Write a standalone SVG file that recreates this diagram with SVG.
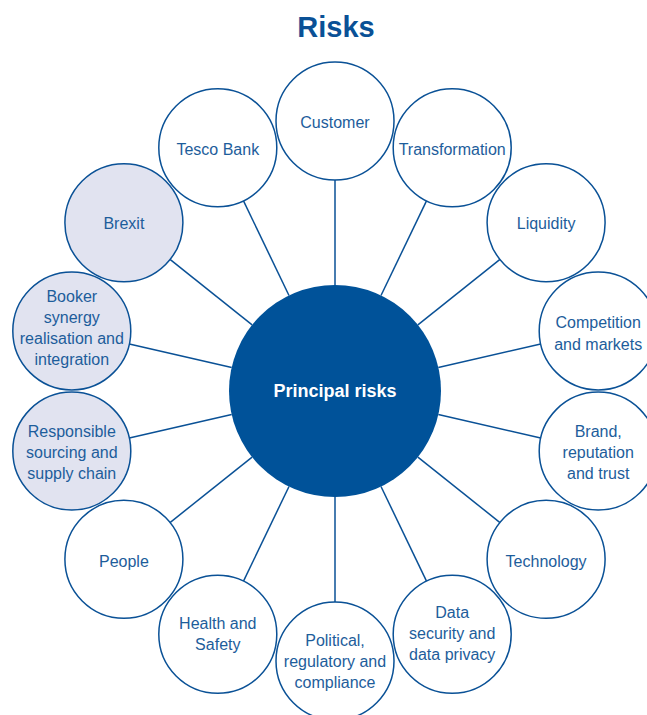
<svg xmlns="http://www.w3.org/2000/svg" width="647" height="715" viewBox="0 0 647 715">
<style>
.n{fill:#ffffff;stroke:#0a5196;stroke-width:1.5}
.h{fill:#e1e3f0}
.t{font-family:"Liberation Sans",Arial,sans-serif;font-size:16px;fill:#1d5d9b;text-anchor:middle}
.c line{stroke:#0a5196;stroke-width:1.5}
</style>
<rect width="647" height="715" fill="#ffffff"/>
<text x="336" y="37" font-family="Liberation Sans,Arial,sans-serif" font-size="29" font-weight="bold" fill="#0a5196" text-anchor="middle">Risks</text>
<g id="connectors" class="c">
<line x1="335" y1="285" x2="335" y2="180"/>
<line x1="381.0" y1="295.5" x2="426.5" y2="200.9"/>
<line x1="289.0" y1="295.5" x2="243.5" y2="200.9"/>
<line x1="417.9" y1="324.9" x2="500.0" y2="259.4"/>
<line x1="252.1" y1="324.9" x2="170.0" y2="259.4"/>
<line x1="438.3" y1="367.4" x2="540.7" y2="344.0"/>
<line x1="231.7" y1="367.4" x2="129.3" y2="344.0"/>
<line x1="438.3" y1="414.6" x2="540.7" y2="438.0"/>
<line x1="231.7" y1="414.6" x2="129.3" y2="438.0"/>
<line x1="417.9" y1="457.1" x2="500.0" y2="522.6"/>
<line x1="252.1" y1="457.1" x2="170.0" y2="522.6"/>
<line x1="381.0" y1="486.5" x2="426.5" y2="581.1"/>
<line x1="289.0" y1="486.5" x2="243.5" y2="581.1"/>
<line x1="335" y1="497" x2="335" y2="602"/>
</g>
<g id="principal">
<circle cx="335" cy="391" r="106" fill="#005299"/>
<text x="335" y="397" font-family="Liberation Sans,Arial,sans-serif" font-size="18" font-weight="bold" fill="#ffffff" text-anchor="middle">Principal risks</text>
</g>
<g id="customer"><circle class="n" cx="335" cy="121" r="59"/><text class="t" x="335" y="128">Customer</text></g>
<g id="transformation"><circle class="n" cx="452.2" cy="147.7" r="59"/><text class="t" x="452.2" y="155">Transformation</text></g>
<g id="tesco-bank"><circle class="n" cx="217.8" cy="147.7" r="59"/><text class="t" x="217.8" y="155">Tesco Bank</text></g>
<g id="liquidity"><circle class="n" cx="546.1" cy="222.7" r="59"/><text class="t" x="546.1" y="229">Liquidity</text></g>
<g id="brexit"><circle class="n h" cx="123.9" cy="222.7" r="59"/><text class="t" x="123.9" y="229">Brexit</text></g>
<g id="competition"><circle class="n" cx="598.2" cy="330.9" r="59"/><text class="t" x="598.2" y="328">Competition</text><text class="t" x="598.2" y="350">and markets</text></g>
<g id="booker"><circle class="n h" cx="71.8" cy="330.9" r="59"/><text class="t" x="71.8" y="302">Booker</text><text class="t" x="71.8" y="323">synergy</text><text class="t" x="71.8" y="344">realisation and</text><text class="t" x="71.8" y="365">integration</text></g>
<g id="brand"><circle class="n" cx="598.2" cy="451.1" r="59"/><text class="t" x="598.2" y="437">Brand,</text><text class="t" x="598.2" y="458">reputation</text><text class="t" x="598.2" y="479">and trust</text></g>
<g id="responsible"><circle class="n h" cx="71.8" cy="451.1" r="59"/><text class="t" x="71.8" y="437">Responsible</text><text class="t" x="71.8" y="458">sourcing and</text><text class="t" x="71.8" y="479">supply chain</text></g>
<g id="technology"><circle class="n" cx="546.1" cy="559.3" r="59"/><text class="t" x="546.1" y="567">Technology</text></g>
<g id="people"><circle class="n" cx="123.9" cy="559.3" r="59"/><text class="t" x="123.9" y="567">People</text></g>
<g id="data-security"><circle class="n" cx="452.2" cy="634.3" r="59"/><text class="t" x="452.2" y="618">Data</text><text class="t" x="452.2" y="639">security and</text><text class="t" x="452.2" y="660">data privacy</text></g>
<g id="health-safety"><circle class="n" cx="217.8" cy="634.3" r="59"/><text class="t" x="217.8" y="629">Health and</text><text class="t" x="217.8" y="650">Safety</text></g>
<g id="political"><circle class="n" cx="335" cy="661" r="59"/><text class="t" x="335" y="646">Political,</text><text class="t" x="335" y="667">regulatory and</text><text class="t" x="335" y="688">compliance</text></g>
</svg>
